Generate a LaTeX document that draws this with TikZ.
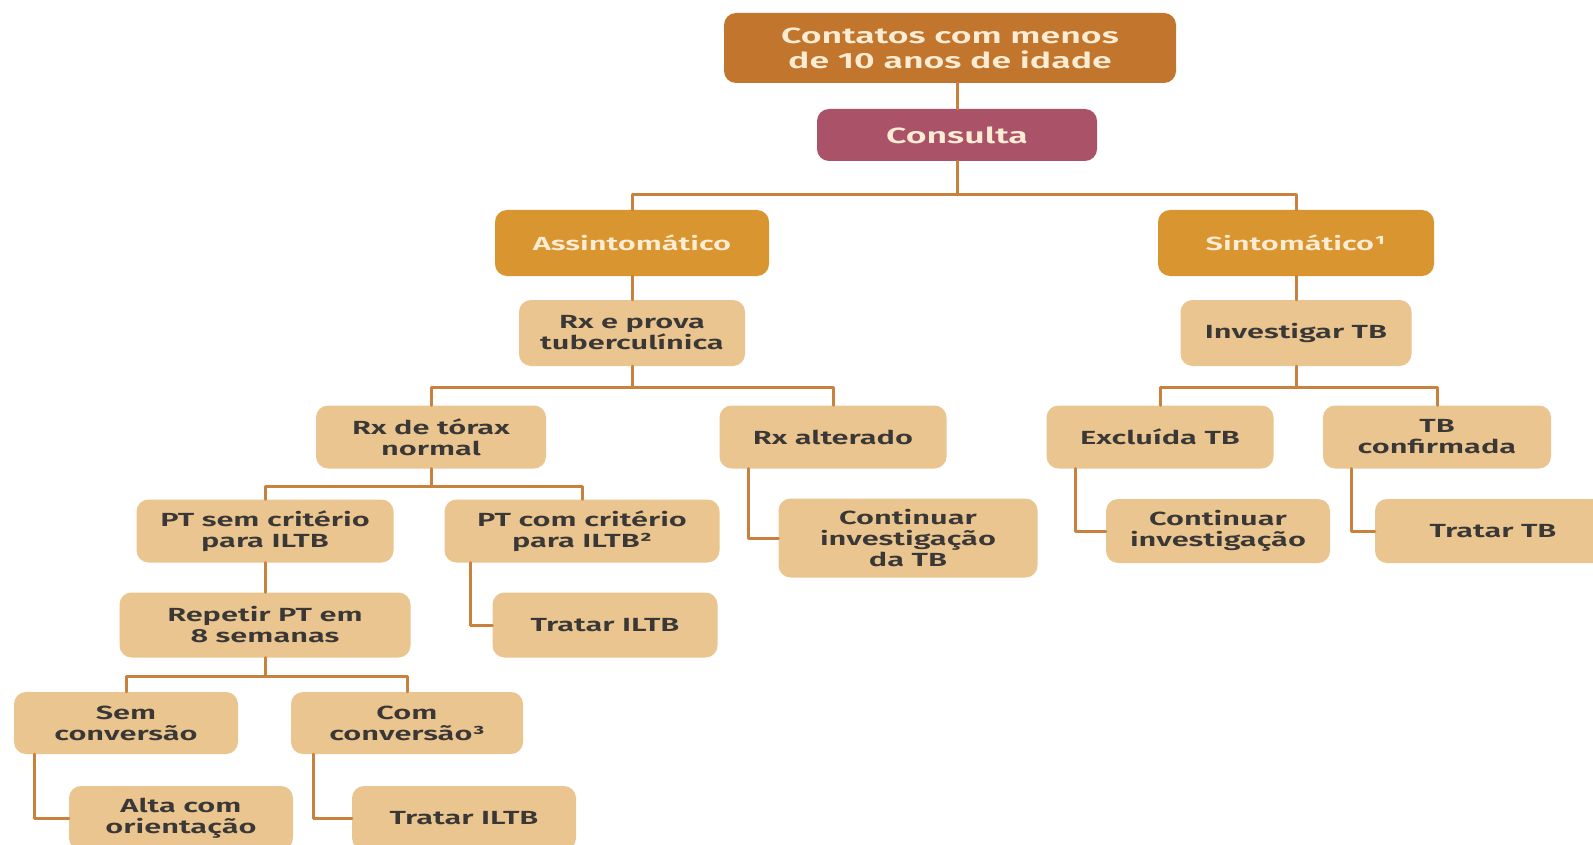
\documentclass[tikz,border=0pt]{standalone}
\usepackage{fontspec}
\IfFontExistsTF{Fira Sans SemiBold}
    {\setmainfont{Fira Sans}[FakeStretch=1.62,BoldFont={Fira Sans SemiBold}]}
    {\setmainfont{Fira Sans}[FakeStretch=1.58]}

\definecolor{headorange}{RGB}{193,117,45}
\definecolor{consultamauve}{RGB}{170,82,104}
\definecolor{branchorange}{RGB}{217,149,48}
\definecolor{boxtan}{RGB}{234,197,143}
\definecolor{linkbrown}{RGB}{200,130,62}
\definecolor{textcream}{RGB}{252,236,212}
\definecolor{textdark}{RGB}{58,56,54}

\begin{document}
\begin{tikzpicture}[x=1pt,y=-1pt,line cap=round,line join=round,
        box/.style={rounded corners=12pt,align=center,inner sep=0pt},
        tanbox/.style={box,fill=boxtan,text=textdark,
            font=\bfseries\fontsize{19}{21}\selectfont},
        headbox/.style={box,fill=headorange,text=textcream,
            font=\bfseries\fontsize{22}{25}\selectfont},
        branchbox/.style={box,fill=branchorange,text=textcream,
            font=\bfseries\fontsize{19}{22}\selectfont},
        link/.style={draw=linkbrown,line width=3pt}]
        \fill[white] (0,0) rectangle (1593,845);
        \useasboundingbox (0,0) rectangle (1593,845);

        % fork points
        \coordinate (f1) at (957,195);
        \coordinate (f2) at (632,387);
        \coordinate (f3) at (1296,387);
        \coordinate (f4) at (431,486);
        \coordinate (f5) at (265,676);

        % top levels
        \node[headbox,minimum width=452,minimum height=70] (top) at (950,48)
            {Contatos com menos\\de 10 anos de idade};
        \node[headbox,fill=consultamauve,minimum width=280,minimum height=52] (consulta) at (957,135)
            {Consulta};
        \node[branchbox,minimum width=274,minimum height=66] (assint) at (632,243) {Assintomático};
        \node[branchbox,minimum width=276,minimum height=66] (sint) at (1296,243) {Sintomático¹};
        \node[tanbox,minimum width=226,minimum height=66] (rxprova) at (632,333) {Rx e prova\\tuberculínica};
        \node[tanbox,minimum width=231,minimum height=66] (invest) at (1296,333) {Investigar TB};

        % asymptomatic branch
        \node[tanbox,minimum width=230,minimum height=63] (rxnorm) at (431,437) {Rx de tórax\\normal};
        \node[tanbox,minimum width=227,minimum height=63] (rxalt) at (833,437) {Rx alterado};
        \node[tanbox,minimum width=257,minimum height=63] (ptsem) at (265,531) {PT sem critério\\para ILTB};
        \node[tanbox,minimum width=275,minimum height=63] (ptcom) at (582,531) {PT com critério\\para ILTB²};
        \node[tanbox,minimum width=259,minimum height=79] (contda) at (908,538) {Continuar\\investigação\\da TB};
        \node[tanbox,minimum width=291,minimum height=65] (repetir) at (265,625) {Repetir PT em\\8 semanas};
        \node[tanbox,minimum width=225,minimum height=65] (tratiltb) at (605,625) {Tratar ILTB};
        \node[tanbox,minimum width=224,minimum height=62] (semconv) at (126,723) {Sem\\conversão};
        \node[tanbox,minimum width=232,minimum height=62] (comconv) at (407,723) {Com\\conversão³};
        \node[tanbox,minimum width=224,minimum height=64] (alta) at (181,818) {Alta com\\orientação};
        \node[tanbox,minimum width=224,minimum height=64] (tratiltbb) at (464,818) {Tratar ILTB};

        % symptomatic branch
        \node[tanbox,minimum width=227,minimum height=63] (excl) at (1160,437) {Excluída TB};
        \node[tanbox,minimum width=228,minimum height=63] (tbconf) at (1437,437) {TB\\confirmada};
        \node[tanbox,minimum width=224,minimum height=64] (contr) at (1218,531) {Continuar\\investigação};
        \node[tanbox,minimum width=236,minimum height=64] (tratartb) at (1493,531) {Tratar TB};

        % straight links
        \draw[link] (top.south -| consulta.north) -- (consulta.north);
        \draw[link] (assint) -- (rxprova);
        \draw[link] (sint) -- (invest);
        \draw[link] (ptsem) -- (repetir);

        % forks
        \draw[link] (consulta.south) -- (f1);
        \draw[link] (assint.north) |- (f1) -| (sint.north);
        \draw[link] (rxprova.south) -- (f2);
        \draw[link] (rxnorm.north) |- (f2) -| (rxalt.north);
        \draw[link] (invest.south) -- (f3);
        \draw[link] (excl.north) |- (f3) -| (tbconf.north);
        \draw[link] (rxnorm.south) -- (f4);
        \draw[link] (ptsem.north) |- (f4) -| (ptcom.north);
        \draw[link] (repetir.south) -- (f5);
        \draw[link] (semconv.north) |- (f5) -| (comconv.north);

        % elbows
        \foreach \a/\b/\s in {rxalt/contda/29,excl/contr/29,tbconf/tratartb/29,
                ptcom/tratiltb/26,semconv/alta/21,comconv/tratiltbb/23} {
            \draw[link] ([xshift=\s]\a.south west) |- (\b.west);
        }
    \end{tikzpicture}
\end{document}
